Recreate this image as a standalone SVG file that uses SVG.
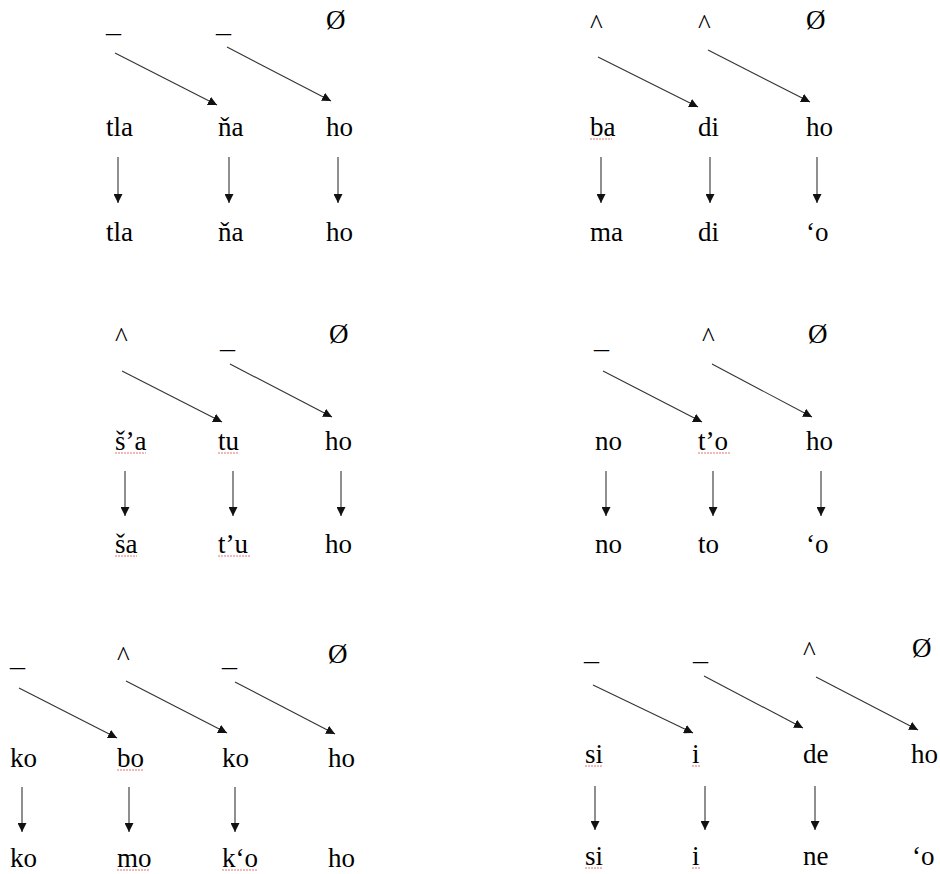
<svg xmlns="http://www.w3.org/2000/svg" width="940" height="874" viewBox="0 0 940 874">
<defs>
<style>
text{font-family:"Liberation Serif","Times New Roman",serif;font-size:27px;fill:#000}
.c line{stroke:#333;stroke-width:1.1;fill:none;marker-end:url(#ah)}
.sq{stroke:#e57373;stroke-width:1;stroke-dasharray:2 1;fill:none}
</style>
<marker id="ah" viewBox="0 0 10 10" refX="10" refY="5" markerWidth="9" markerHeight="9" markerUnits="userSpaceOnUse" orient="auto"><path d="M0,0 L10,5 L0,10 z" fill="#111"/></marker>
</defs>
<rect width="940" height="874" fill="#fff"/>

<!-- Block 1 -->
<g id="b1-t1"><text x="106" y="32" textLength="15" lengthAdjust="spacingAndGlyphs">_</text></g>
<g id="b1-t2"><text x="216" y="32" textLength="15" lengthAdjust="spacingAndGlyphs">_</text></g>
<g id="b1-t3"><text x="326" y="29">Ø</text></g>
<g id="b1-a1"><text x="106" y="136">tla</text></g>
<g id="b1-a2"><text x="218" y="136">ňa</text></g>
<g id="b1-a3"><text x="326" y="136">ho</text></g>
<g id="b1-b1"><text x="106" y="241">tla</text></g>
<g id="b1-b2"><text x="218" y="241">ňa</text></g>
<g id="b1-b3"><text x="326" y="241">ho</text></g>

<!-- Block 2 -->
<g id="b2-t1"><text x="590" y="33">^</text></g>
<g id="b2-t2"><text x="698" y="33">^</text></g>
<g id="b2-t3"><text x="806" y="29">Ø</text></g>
<g id="b2-a1"><text x="590" y="136">ba</text></g>
<g id="b2-a2"><text x="698" y="136">di</text></g>
<g id="b2-a3"><text x="806" y="136">ho</text></g>
<g id="b2-b1"><text x="590" y="241">ma</text></g>
<g id="b2-b2"><text x="698" y="241">di</text></g>
<g id="b2-b3"><text x="806" y="241">‘o</text></g>

<!-- Block 3 -->
<g id="b3-t1"><text x="115" y="346">^</text></g>
<g id="b3-t2"><text x="220" y="348" textLength="15" lengthAdjust="spacingAndGlyphs">_</text></g>
<g id="b3-t3"><text x="329" y="343">Ø</text></g>
<g id="b3-a1"><text x="115" y="450">š’a</text></g>
<g id="b3-a2"><text x="218" y="450">tu</text></g>
<g id="b3-a3"><text x="325" y="450">ho</text></g>
<g id="b3-b1"><text x="115" y="553">ša</text></g>
<g id="b3-b2"><text x="218" y="553">t’u</text></g>
<g id="b3-b3"><text x="325" y="553">ho</text></g>

<!-- Block 4 -->
<g id="b4-t1"><text x="594" y="348" textLength="15" lengthAdjust="spacingAndGlyphs">_</text></g>
<g id="b4-t2"><text x="702" y="346">^</text></g>
<g id="b4-t3"><text x="808" y="343">Ø</text></g>
<g id="b4-a1"><text x="595" y="450">no</text></g>
<g id="b4-a2"><text x="698" y="450">t’o</text></g>
<g id="b4-a3"><text x="806" y="450">ho</text></g>
<g id="b4-b1"><text x="595" y="553">no</text></g>
<g id="b4-b2"><text x="698" y="553">to</text></g>
<g id="b4-b3"><text x="806" y="553">‘o</text></g>

<!-- Block 5 -->
<g id="b5-t1"><text x="10" y="666" textLength="15" lengthAdjust="spacingAndGlyphs">_</text></g>
<g id="b5-t2"><text x="117" y="665">^</text></g>
<g id="b5-t3"><text x="222" y="666" textLength="15" lengthAdjust="spacingAndGlyphs">_</text></g>
<g id="b5-t4"><text x="328" y="663">Ø</text></g>
<g id="b5-a1"><text x="10" y="767">ko</text></g>
<g id="b5-a2"><text x="117" y="767">bo</text></g>
<g id="b5-a3"><text x="222" y="767">ko</text></g>
<g id="b5-a4"><text x="328" y="767">ho</text></g>
<g id="b5-b1"><text x="10" y="867">ko</text></g>
<g id="b5-b2"><text x="117" y="867">mo</text></g>
<g id="b5-b3"><text x="222" y="867">k‘o</text></g>
<g id="b5-b4"><text x="328" y="867">ho</text></g>

<!-- Block 6 -->
<g id="b6-t1"><text x="584" y="660" textLength="15" lengthAdjust="spacingAndGlyphs">_</text></g>
<g id="b6-t2"><text x="693" y="660" textLength="15" lengthAdjust="spacingAndGlyphs">_</text></g>
<g id="b6-t3"><text x="803" y="660">^</text></g>
<g id="b6-t4"><text x="912" y="657">Ø</text></g>
<g id="b6-a1"><text x="585" y="763">si</text></g>
<g id="b6-a2"><text x="692" y="763">i</text></g>
<g id="b6-a3"><text x="803" y="763">de</text></g>
<g id="b6-a4"><text x="911" y="763">ho</text></g>
<g id="b6-b1"><text x="585" y="865">si</text></g>
<g id="b6-b2"><text x="692" y="865">i</text></g>
<g id="b6-b3"><text x="803" y="865">ne</text></g>
<g id="b6-b4"><text x="912" y="865">‘o</text></g>

<g id="spellcheck">
<line class="sq" x1="590" y1="139" x2="612" y2="139"/>
<line class="sq" x1="115" y1="453" x2="146" y2="453"/>
<line class="sq" x1="218" y1="453" x2="239" y2="453"/>
<line class="sq" x1="115" y1="556" x2="137" y2="556"/>
<line class="sq" x1="218" y1="556" x2="250" y2="556"/>
<line class="sq" x1="698" y1="453" x2="730" y2="453"/>
<line class="sq" x1="117" y1="770" x2="143" y2="770"/>
<line class="sq" x1="117" y1="870" x2="150" y2="870"/>
<line class="sq" x1="222" y1="870" x2="258" y2="870"/>
<line class="sq" x1="585" y1="766" x2="602" y2="766"/>
<line class="sq" x1="692" y1="766" x2="700" y2="766"/>
<line class="sq" x1="585" y1="868" x2="602" y2="868"/>
<line class="sq" x1="692" y1="868" x2="700" y2="868"/>
</g>

<g id="connectors" class="c">
<!-- block 1 -->
<line x1="115" y1="53" x2="217" y2="105"/>
<line x1="227" y1="47" x2="331" y2="101"/>
<line x1="118" y1="157" x2="118" y2="203"/>
<line x1="229" y1="157" x2="229" y2="203"/>
<line x1="338" y1="157" x2="338" y2="203"/>
<!-- block 2 -->
<line x1="598" y1="57" x2="698" y2="107"/>
<line x1="708" y1="50" x2="810" y2="102"/>
<line x1="601" y1="157" x2="601" y2="203"/>
<line x1="710" y1="157" x2="710" y2="203"/>
<line x1="817" y1="157" x2="817" y2="203"/>
<!-- block 3 -->
<line x1="122" y1="371" x2="222" y2="422"/>
<line x1="230" y1="364" x2="332" y2="417"/>
<line x1="125" y1="471" x2="125" y2="516"/>
<line x1="233" y1="471" x2="233" y2="516"/>
<line x1="341" y1="471" x2="341" y2="516"/>
<!-- block 4 -->
<line x1="603" y1="371" x2="702" y2="422"/>
<line x1="712" y1="364" x2="812" y2="417"/>
<line x1="606" y1="471" x2="606" y2="516"/>
<line x1="713" y1="471" x2="713" y2="516"/>
<line x1="821" y1="471" x2="821" y2="516"/>
<!-- block 5 -->
<line x1="19" y1="688" x2="117" y2="738"/>
<line x1="126" y1="681" x2="227" y2="733"/>
<line x1="235" y1="682" x2="335" y2="734"/>
<line x1="22" y1="787" x2="22" y2="832"/>
<line x1="129" y1="787" x2="129" y2="832"/>
<line x1="235" y1="787" x2="235" y2="832"/>
<!-- block 6 -->
<line x1="593" y1="685" x2="693" y2="733"/>
<line x1="704" y1="676" x2="803" y2="728"/>
<line x1="816" y1="677" x2="918" y2="730"/>
<line x1="595" y1="786" x2="595" y2="830"/>
<line x1="705" y1="786" x2="705" y2="830"/>
<line x1="815" y1="786" x2="815" y2="830"/>
</g>
</svg>
